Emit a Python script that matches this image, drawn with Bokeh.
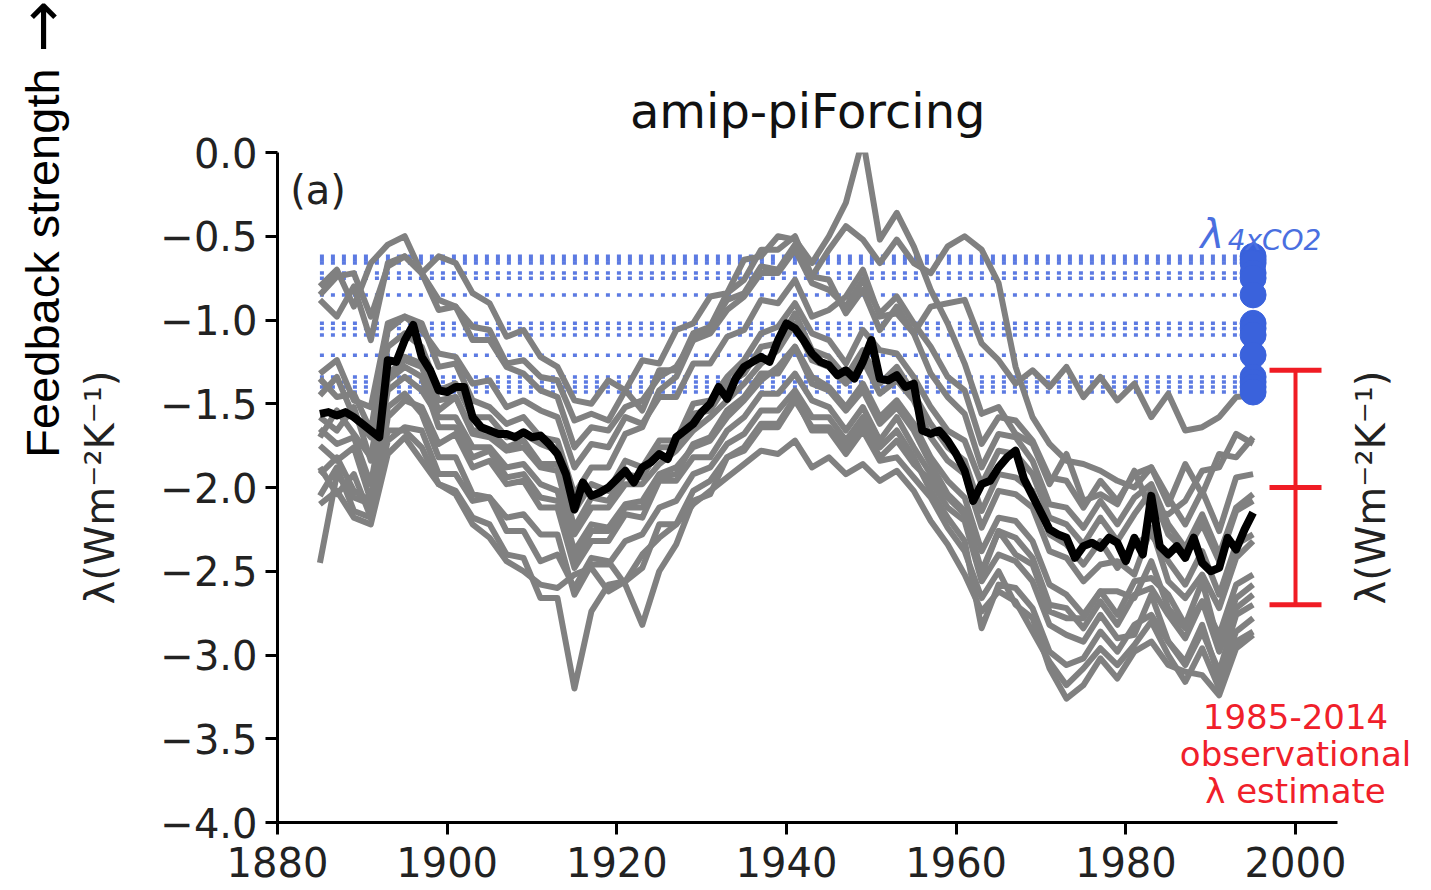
import math
from bokeh.plotting import figure
from bokeh.models import Label, FixedTicker, CustomJSTickFormatter, Range1d
from bokeh.embed import file_html
from bokeh.resources import INLINE

# ---------------- data ----------------
years_black = list(range(1885, 1996))
black_mean = [
    -1.56, -1.55, -1.57, -1.55, -1.58, -1.62, -1.66, -1.70, -1.24, -1.25,
    -1.12, -1.03, -1.22, -1.30, -1.42, -1.43, -1.40, -1.40, -1.58, -1.64,
    -1.66, -1.68, -1.68, -1.70, -1.67, -1.70, -1.69, -1.74, -1.80, -1.92,
    -2.13, -1.97, -2.05, -2.03, -2.00, -1.95, -1.90, -1.97, -1.88, -1.85,
    -1.80, -1.83, -1.70, -1.66, -1.62, -1.55, -1.50, -1.40, -1.47, -1.35,
    -1.28, -1.25, -1.22, -1.25, -1.12, -1.02, -1.05, -1.12, -1.20, -1.25,
    -1.27, -1.33, -1.30, -1.35, -1.25, -1.12, -1.35, -1.36, -1.33, -1.40,
    -1.38, -1.66, -1.68, -1.66, -1.72, -1.80, -1.90, -2.08, -1.98, -1.96,
    -1.88, -1.82, -1.78, -1.95, -2.05, -2.15, -2.25, -2.28, -2.30, -2.42,
    -2.35, -2.33, -2.36, -2.30, -2.33, -2.44, -2.30, -2.40, -2.05, -2.35,
    -2.40, -2.35, -2.42, -2.30, -2.45, -2.50, -2.48, -2.30, -2.37, -2.25,
    -2.15,
]

years_gray = list(range(1885, 1996, 2))
g01 = [-0.80, -0.70, -0.92, -0.66, -0.55, -0.50, -0.72, -0.62, -0.66, -0.84, -0.90, -1.10, -1.06, -1.22,
       -1.28, -1.48, -1.50, -1.36, -1.42, -1.24, -1.26, -1.06, -1.02, -0.86, -0.84, -0.64, -0.62, -0.50,
       -0.52, -0.66, -0.50, -0.30, 0.08, -0.52, -0.36, -0.56, -0.82, -1.02, -1.26, -1.56, -1.52, -1.68,
       -1.74, -1.98, -1.80, -2.08, -2.04, -2.10, -1.90, -2.14, -2.16, -2.08, -1.90, -1.88, -1.68, -1.74]
g02 = [-0.85, -0.74, -0.72, -0.98, -0.68, -0.62, -0.72, -0.94, -0.92, -1.04, -1.06, -1.26, -1.24, -1.34,
       -1.36, -1.60, -1.56, -1.60, -1.42, -1.54, -1.30, -1.30, -1.08, -1.04, -0.88, -0.84, -0.68, -0.70,
       -0.55, -0.74, -0.58, -0.44, -0.52, -0.66, -0.52, -0.66, -0.72, -0.56, -0.50, -0.58, -0.78, -1.28,
       -1.58, -1.74, -1.84, -1.86, -1.90, -1.96, -2.00, -1.88, -2.10, -1.86, -2.04, -1.80, -1.82, -1.70]
g03 = [-1.32, -1.24, -1.48, -1.52, -1.02, -0.98, -1.06, -1.20, -1.22, -1.38, -1.36, -1.52, -1.48, -1.54,
       -1.58, -1.88, -1.74, -1.76, -1.58, -1.62, -1.46, -1.46, -1.26, -1.26, -1.10, -1.06, -0.88, -0.90,
       -0.76, -0.98, -0.94, -0.86, -0.70, -0.98, -0.96, -1.08, -0.92, -0.90, -0.88, -1.14, -1.24, -1.38,
       -1.30, -1.40, -1.28, -1.46, -1.34, -1.48, -1.38, -1.58, -1.44, -1.66, -1.64, -1.58, -1.46, -1.45]
g04 = [-1.45, -1.34, -1.58, -1.70, -1.16, -1.08, -1.16, -1.42, -1.38, -1.58, -1.58, -1.70, -1.68, -1.74,
       -1.78, -2.14, -1.98, -2.02, -1.84, -1.88, -1.72, -1.72, -1.50, -1.48, -1.34, -1.24, -1.08, -1.04,
       -0.90, -1.08, -1.12, -1.26, -1.06, -1.18, -1.20, -1.34, -1.52, -1.66, -1.72, -1.98, -1.78, -1.80,
       -1.92, -2.18, -2.22, -2.34, -2.18, -2.32, -2.16, -2.02, -2.28, -2.38, -2.22, -2.44, -2.14, -2.08]
g05 = [-1.58, -1.66, -1.52, -1.84, -1.32, -1.24, -1.28, -1.54, -1.46, -1.68, -1.70, -1.78, -1.76, -1.88,
       -1.90, -2.28, -2.12, -2.12, -1.98, -1.98, -1.86, -1.78, -1.66, -1.58, -1.48, -1.38, -1.26, -1.18,
       -1.02, -1.24, -1.28, -1.38, -1.24, -1.44, -1.36, -1.48, -1.70, -1.84, -1.92, -2.24, -2.02, -2.04,
       -2.12, -2.38, -2.42, -2.56, -2.46, -2.44, -2.52, -2.24, -2.56, -2.66, -2.52, -2.72, -2.42, -2.32]
g06 = [-1.65, -1.74, -1.70, -1.98, -1.42, -1.34, -1.42, -1.58, -1.58, -1.76, -1.76, -1.88, -1.86, -1.98,
       -2.02, -2.38, -2.22, -2.24, -2.10, -2.08, -1.92, -1.88, -1.76, -1.72, -1.58, -1.48, -1.36, -1.28,
       -1.16, -1.34, -1.40, -1.52, -1.38, -1.58, -1.48, -1.62, -1.82, -1.96, -2.06, -2.38, -2.18, -2.20,
       -2.32, -2.58, -2.64, -2.76, -2.62, -2.62, -2.66, -2.44, -2.72, -2.84, -2.68, -2.88, -2.58, -2.52]
g07 = [-1.75, -1.84, -1.76, -2.08, -1.52, -1.44, -1.56, -1.82, -1.82, -2.04, -2.06, -2.26, -2.26, -2.44,
       -2.40, -2.60, -2.42, -2.44, -2.58, -2.82, -2.50, -2.34, -2.08, -2.04, -1.82, -1.78, -1.64, -1.64,
       -1.48, -1.64, -1.64, -1.76, -1.62, -1.82, -1.72, -1.86, -1.96, -2.12, -2.20, -2.56, -2.40, -2.44,
       -2.56, -2.82, -2.88, -2.92, -2.76, -2.90, -2.88, -2.64, -2.92, -3.06, -2.86, -3.10, -2.76, -2.70]
g08 = [-2.45, -1.92, -2.06, -2.10, -1.66, -1.66, -1.76, -1.98, -2.02, -2.18, -2.22, -2.40, -2.42, -2.66,
       -2.66, -3.20, -2.74, -2.58, -2.56, -2.48, -2.22, -2.22, -2.02, -1.96, -1.82, -1.76, -1.62, -1.62,
       -1.46, -1.66, -1.66, -1.80, -1.66, -1.84, -1.82, -1.94, -2.06, -2.24, -2.38, -2.66, -2.50, -2.70,
       -2.78, -3.08, -3.26, -3.18, -3.02, -3.14, -2.98, -2.92, -3.06, -3.10, -3.12, -3.24, -2.96, -2.88]
g09 = [-1.88, -2.04, -1.92, -2.18, -1.58, -1.48, -1.52, -1.74, -1.68, -1.88, -1.84, -1.98, -1.96, -2.12,
       -2.12, -2.48, -2.32, -2.32, -2.16, -2.18, -1.96, -1.96, -1.82, -1.82, -1.66, -1.58, -1.44, -1.44,
       -1.32, -1.48, -1.52, -1.66, -1.52, -1.72, -1.58, -1.76, -1.92, -2.06, -2.16, -2.52, -2.26, -2.40,
       -2.46, -2.74, -2.78, -2.78, -2.62, -2.76, -2.56, -2.54, -2.64, -2.82, -2.56, -2.94, -2.66, -2.58]
g10 = [-1.35, -1.46, -1.44, -1.66, -1.06, -0.98, -1.02, -1.28, -1.26, -1.48, -1.52, -1.62, -1.58, -1.70,
       -1.72, -2.04, -1.88, -1.88, -1.68, -1.64, -1.42, -1.34, -1.12, -1.04, -0.84, -0.76, -0.58, -0.58,
       -0.50, -0.74, -0.76, -0.96, -0.82, -1.06, -0.92, -1.08, -1.32, -1.46, -1.56, -1.88, -1.68, -1.70,
       -1.84, -2.10, -2.12, -2.24, -2.08, -2.22, -2.06, -1.98, -2.22, -2.36, -2.16, -2.40, -2.12, -2.04]
g11 = [-2.05, -1.88, -2.14, -2.18, -1.72, -1.64, -1.66, -1.92, -1.92, -2.08, -2.06, -2.18, -2.16, -2.28,
       -2.28, -2.64, -2.46, -2.46, -2.32, -2.28, -2.12, -2.08, -1.92, -1.88, -1.74, -1.68, -1.54, -1.54,
       -1.42, -1.58, -1.58, -1.72, -1.58, -1.76, -1.66, -1.82, -2.02, -2.18, -2.32, -2.84, -2.58, -2.60,
       -2.72, -2.98, -3.06, -3.02, -2.86, -2.98, -2.82, -2.76, -2.92, -3.04, -2.82, -3.14, -2.86, -2.78]
g12 = [-1.70, -1.54, -1.68, -1.82, -1.26, -1.22, -1.26, -1.48, -1.46, -1.66, -1.66, -1.76, -1.72, -1.86,
       -1.86, -2.24, -2.06, -2.08, -1.92, -1.94, -1.76, -1.76, -1.56, -1.54, -1.38, -1.32, -1.16, -1.14,
       -0.96, -1.18, -1.22, -1.34, -1.18, -1.38, -1.28, -1.44, -1.62, -1.76, -1.84, -2.14, -1.92, -1.94,
       -2.02, -2.28, -2.34, -2.46, -2.32, -2.48, -2.34, -2.28, -2.44, -2.58, -2.38, -2.64, -2.34, -2.28]
g13 = [-0.88, -0.98, -0.80, -1.12, -0.66, -0.62, -0.72, -0.88, -0.92, -1.12, -1.12, -1.28, -1.32, -1.42,
       -1.46, -1.76, -1.64, -1.66, -1.52, -1.48, -1.34, -1.28, -1.12, -1.08, -0.94, -0.86, -0.72, -0.72,
       -0.58, -0.78, -0.82, -0.92, -0.76, -0.96, -0.86, -1.02, -1.16, -1.34, -1.42, -1.74, -1.58, -1.60,
       -1.72, -1.94, -1.96, -2.12, -1.96, -2.08, -1.92, -1.88, -2.06, -2.22, -2.02, -2.26, -1.94, -1.92]
g14 = [-1.92, -1.82, -2.02, -2.08, -1.36, -1.28, -1.34, -1.64, -1.64, -1.82, -1.78, -1.94, -1.92, -2.06,
       -2.08, -2.44, -2.26, -2.26, -2.12, -2.12, -1.94, -1.92, -1.74, -1.70, -1.54, -1.46, -1.32, -1.32,
       -1.16, -1.38, -1.42, -1.54, -1.42, -1.62, -1.52, -1.66, -1.86, -2.04, -2.14, -2.50, -2.26, -2.30,
       -2.42, -2.70, -2.72, -2.84, -2.68, -2.82, -2.64, -2.60, -2.76, -2.90, -2.68, -2.98, -2.72, -2.64]
g15 = [-2.10, -2.02, -2.18, -2.22, -1.80, -1.70, -1.84, -1.98, -2.04, -2.22, -2.30, -2.44, -2.50, -2.58,
       -2.60, -2.52, -2.48, -2.62, -2.56, -2.40, -2.30, -2.22, -2.10, -2.02, -1.94, -1.86, -1.78, -1.80,
       -1.72, -1.88, -1.82, -1.92, -1.86, -1.96, -1.90, -2.02, -2.20, -2.34, -2.52, -2.74, -2.62, -2.68,
       -2.86, -3.04, -3.18, -3.08, -2.96, -3.06, -2.94, -2.80, -3.00, -3.16, -2.96, -3.20, -2.92, -2.86]
gray_models = [g01, g02, g03, g04, g05, g06, g07, g08, g09, g10, g11, g12, g13, g14, g15]

lambda_4xco2 = [-0.62, -0.64, -0.66, -0.72, -0.75, -0.85, -1.02,
                -1.05, -1.09, -1.21, -1.34, -1.37, -1.40, -1.43]
lambda_start, lambda_end = 1885, 1995

obs_year = 2000
obs_mean, obs_low, obs_high = -2.0, -2.7, -1.3

x_ticks = [1880, 1900, 1920, 1940, 1960, 1980, 2000]
y_ticks = [0.0, -0.5, -1.0, -1.5, -2.0, -2.5, -3.0, -3.5, -4.0]

# ---------------- figure ----------------
# frame extends to the right edge so the right-hand texts are not clipped;
# the x axis itself is bounded to 1880-2005.
p = figure(width=1431, height=890, output_backend="svg", toolbar_location=None,
           x_range=Range1d(1880, 2016.03), y_range=Range1d(-4.0, 0.0),
           min_border_left=277, min_border_right=0,
           min_border_top=152, min_border_bottom=68)
p.outline_line_color = None
p.xgrid.visible = False
p.ygrid.visible = False
p.background_fill_color = "white"
p.border_fill_color = "white"

FONT = "DejaVu Sans"
for ax in (p.xaxis[0], p.yaxis[0]):
    ax.axis_line_width = 3
    ax.axis_line_color = "black"
    ax.major_tick_line_width = 3
    ax.major_tick_line_color = "black"
    ax.major_tick_out = 12
    ax.major_tick_in = 0
    ax.minor_tick_line_color = None
    ax.major_label_text_font = FONT
    ax.major_label_text_font_size = "40px"
    ax.major_label_text_color = "#222222"
    ax.major_label_standoff = 8
p.xaxis.major_label_standoff = 12

p.xaxis.bounds = (1880, 2005)
p.xaxis.ticker = FixedTicker(ticks=x_ticks)
p.yaxis.ticker = FixedTicker(ticks=y_ticks)
p.yaxis.formatter = CustomJSTickFormatter(
    code="return (tick < -1e-9 ? '\u2212' : '') + Math.abs(tick).toFixed(1);")

p.yaxis.axis_label = "λ(Wm⁻²K⁻¹)"
p.yaxis.axis_label_text_font = FONT
p.yaxis.axis_label_text_font_size = "40px"
p.yaxis.axis_label_text_font_style = "normal"
p.yaxis.axis_label_text_color = "#222222"
p.yaxis.axis_label_standoff = 34

# blue dotted lambda_4xCO2 lines
p.segment(x0=[lambda_start] * len(lambda_4xco2), x1=[lambda_end] * len(lambda_4xco2),
          y0=lambda_4xco2, y1=lambda_4xco2,
          line_color="#3f63dd", line_width=3.5, line_dash="4 7", line_alpha=0.85)

# gray model lines
for g in gray_models:
    p.line(years_gray, g, line_color="#808080", line_width=6, line_join="round")

# black multi-model mean
p.line(years_black, black_mean, line_color="black", line_width=8, line_join="round")

# blue dots
p.scatter([lambda_end] * len(lambda_4xco2), lambda_4xco2, size=26,
          fill_color="#3a62dc", line_color="#3a62dc")

# red observational estimate
p.segment(x0=[obs_year], x1=[obs_year], y0=[obs_low], y1=[obs_high],
          line_color="#f01c24", line_width=4)
p.scatter([obs_year] * 3, [obs_low, obs_mean, obs_high], marker="dash", size=52,
          line_color="#f01c24", line_width=5)

# ---------------- texts ----------------
def lab(x, y, text, size, color="black", style="normal", align="center",
        baseline="middle", angle=0.0, font=FONT, side=None):
    label = Label(x=x, y=y, text=text, text_font=font, text_font_size=size,
                  text_color=color, text_font_style=style, text_align=align,
                  text_baseline=baseline, angle=angle)
    if side is None:
        p.add_layout(label)
    else:
        p.add_layout(label, side)

lab(1942.5, 0.25, "amip-piForcing", "48px", color="#111111", side="above")
lab(1881.5, -0.225, "(a)", "40px", color="#222222", align="left")
lab(1988.8, -0.485, "λ", "40px", color="#4a6fe0", style="italic", align="left",
    baseline="alphabetic")
lab(1992.0, -0.525, "4xCO2", "28px", color="#4a6fe0", style="italic", align="left",
    baseline="alphabetic")
lab(2000.0, -3.37, "1985-2014", "34px", color="#f0202a")
lab(2000.0, -3.59, "observational", "34px", color="#f0202a")
lab(2000.0, -3.81, "λ estimate", "34px", color="#f0202a")
lab(2008.85, -2.0, "λ(Wm⁻²K⁻¹)", "40px", color="#222222",
    angle=math.pi / 2)
lab(1852.3, -0.66, "Feedback strength", "47px", color="black",
    angle=math.pi / 2, font="Liberation Sans", side="left")
lab(1852.2, 0.752, "→", "62px", color="black", angle=math.pi / 2, side="above")

open("out.html", "w").write(file_html(p, INLINE))
